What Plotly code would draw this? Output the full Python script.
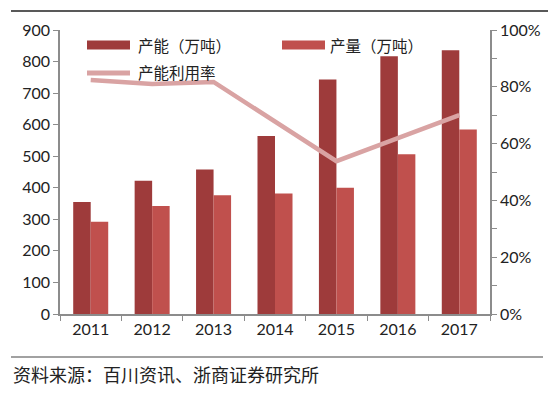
import plotly.graph_objects as go

years = ["2011", "2012", "2013", "2014", "2015", "2016", "2017"]
capacity = [355, 422, 458, 564, 743, 817, 836]
production = [292, 342, 376, 382, 400, 506, 585]
utilization = [0.824, 0.810, 0.817, 0.677, 0.538, 0.619, 0.700]

left_ticks = [0, 100, 200, 300, 400, 500, 600, 700, 800, 900]

C_CAP = "#9E3B3B"
C_PROD = "#C0504D"
C_UTIL = "#D9A3A3"
AX = "#8C8C8C"
CJK = "Noto Sans CJK SC"
NUM = "Lato"

W, H = 554, 396
L, R, T, B = 60, 490, 30, 314


def px(x):
    return (x - L) / (R - L)


def py(y):
    return (B - y) / (B - T)


fig = go.Figure()
fig.add_trace(go.Bar(x=years, y=capacity, name="产能（万吨）", marker_color=C_CAP,
                     marker_line_width=0, showlegend=False))
fig.add_trace(go.Bar(x=years, y=production, name="产量（万吨）", marker_color=C_PROD,
                     marker_line_width=0, showlegend=False))
fig.add_trace(go.Scatter(x=years, y=utilization, name="产能利用率", yaxis="y2",
                         mode="lines", line=dict(color=C_UTIL, width=4.5),
                         showlegend=False))

shapes = [
    dict(type="line", xref="paper", yref="paper", x0=px(11), x1=px(548), y0=py(11), y1=py(11),
         line=dict(color="#222", width=1.5)),
    dict(type="line", xref="paper", yref="paper", x0=px(11), x1=px(543), y0=py(357), y1=py(357),
         line=dict(color="#444", width=1.2)),
    # legend symbols
    dict(type="rect", xref="paper", yref="paper", x0=px(87), x1=px(130), y0=py(49.5), y1=py(40.5),
         fillcolor=C_CAP, line_width=0),
    dict(type="rect", xref="paper", yref="paper", x0=px(282), x1=px(325), y0=py(49.5), y1=py(40.5),
         fillcolor=C_PROD, line_width=0),
    dict(type="line", xref="paper", yref="paper", x0=px(87), x1=px(130), y0=py(73), y1=py(73),
         line=dict(color=C_UTIL, width=5)),
]

annotations = [
    dict(text="产能（万吨）", xref="paper", yref="paper", x=px(136), y=py(45), xanchor="left",
         yanchor="middle", showarrow=False, font=dict(family=CJK, size=15.5, color="#222")),
    dict(text="产量（万吨）", xref="paper", yref="paper", x=px(328), y=py(45), xanchor="left",
         yanchor="middle", showarrow=False, font=dict(family=CJK, size=15.5, color="#222")),
    dict(text="产能利用率", xref="paper", yref="paper", x=px(136), y=py(72), xanchor="left",
         yanchor="middle", showarrow=False, font=dict(family=CJK, size=15.5, color="#222")),
    dict(text="资料来源：百川资讯、浙商证券研究所", xref="paper", yref="paper", x=px(11), y=py(374),
         xanchor="left", yanchor="middle", showarrow=False,
         font=dict(family=CJK, size=18, color="#222")),
]

fig.update_layout(
    width=W, height=H,
    margin=dict(l=L, r=W - R, t=T, b=H - B),
    paper_bgcolor="white", plot_bgcolor="white",
    barmode="group", bargap=0.43, bargroupgap=0,
    showlegend=False,
    shapes=shapes, annotations=annotations,
    xaxis=dict(type="category", showline=True, linecolor=AX, linewidth=1.5,
               ticks="outside", tickson="boundaries", ticklen=5, tickcolor=AX,
               tickfont=dict(family=NUM, size=16, color="#222"), showgrid=False),
    yaxis=dict(range=[0, 900], tickvals=left_ticks, showline=True, linecolor=AX, linewidth=1.5,
               ticks="outside", ticklen=5, tickcolor=AX, showgrid=False, zeroline=False,
               tickfont=dict(family=NUM, size=16, color="#222")),
    yaxis2=dict(range=[0, 1], dtick=0.2, tickformat=".0%", overlaying="y", side="right",
                showline=True, linecolor=AX, linewidth=1.5, ticks="outside", ticklen=5,
                tickcolor=AX, showgrid=False, zeroline=False,
                minor=dict(dtick=0.1, ticks="outside", ticklen=5, tickcolor=AX),
                tickfont=dict(family=NUM, size=16, color="#222")),
)

fig.write_html("out.html", config={"displayModeBar": False},
               post_script="document.body.style.margin='0';document.body.style.padding='0';")
